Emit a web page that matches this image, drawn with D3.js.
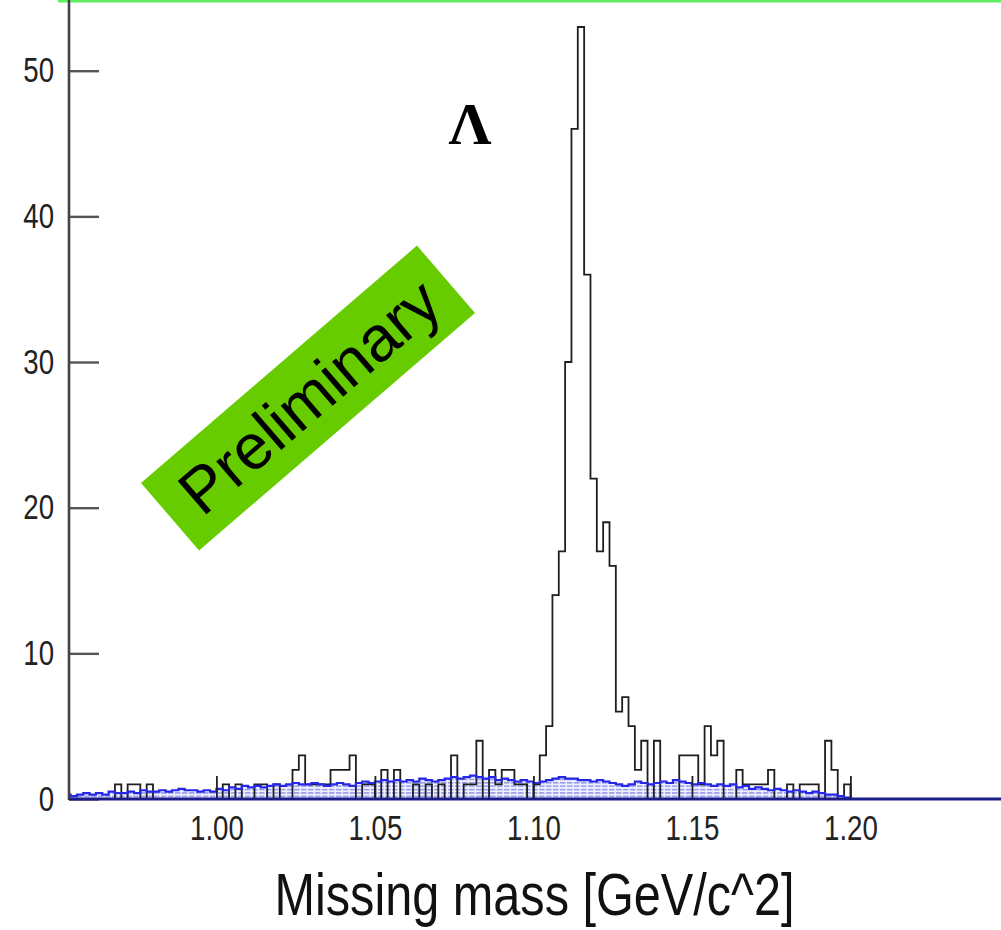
<!DOCTYPE html>
<html>
<head>
<meta charset="utf-8">
<script src="https://cdn.jsdelivr.net/npm/d3@7"></script>
<style>
  html, body { margin: 0; padding: 0; background: #ffffff; }
  svg { display: block; }
</style>
</head>
<body>
<script>
// Histogram binning: 2 MeV bins starting at 0.952 GeV/c^2
const binStart = 0.952;
const binWidth = 0.002;

// Event counts per bin (black histogram)
const signalCounts = [
  0, 0, 0, 0,
  0, 0, 0, 0, 1, 0, 1, 1, 0, 1,
  0, 0, 0, 0, 0, 0, 0, 0, 0, 0,
  0, 1, 0, 1, 0, 0, 1, 1, 0, 1,
  0, 0, 2, 3, 1, 1, 1, 1, 2, 2,
  2, 3, 0, 1, 1, 0, 2, 0, 2, 0,
  0, 1, 0, 1, 0, 1, 0, 3, 0, 1,
  1, 4, 0, 2, 1, 2, 2, 1, 1, 0,
  1, 3, 5, 14, 17, 30, 46, 53, 36, 22,
  17, 19, 16, 6, 7, 5, 2, 4, 0, 4,
  0, 0, 0, 3, 3, 3, 1, 5, 3, 4,
  0, 0, 2, 1, 1, 1, 1, 2, 0, 0,
  1, 0, 1, 1, 1, 0, 4, 2, 0, 1,
  0, 0, 0, 0, 0, 0, 0, 0, 0, 0,
  0, 0, 0, 0, 0, 0, 0, 0, 0, 0,
  0, 0, 0, 0
];

// Background estimate per bin (blue hatched histogram)
const backgroundCounts = [
  0.3, 0.2, 0.3, 0.4,
  0.3, 0.4, 0.3, 0.5, 0.4, 0.4, 0.5, 0.4, 0.6, 0.5,
  0.5, 0.6, 0.5, 0.6, 0.7, 0.6, 0.6, 0.5, 0.6, 0.5,
  0.7, 0.6, 0.8, 0.7, 0.9, 0.8, 0.9, 0.8, 0.9, 1.0,
  0.9, 1.0, 1.1, 1.0, 1.0, 1.1, 1.0, 0.9, 1.0, 1.1,
  1.0, 0.9, 1.1, 1.2, 1.1, 1.2, 1.3, 1.2, 1.3, 1.2,
  1.3, 1.2, 1.4, 1.3, 1.2, 1.3, 1.4, 1.5, 1.4, 1.5,
  1.6, 1.5, 1.4, 1.5, 1.3, 1.4, 1.3, 1.2, 1.3, 1.2,
  1.1, 1.2, 1.3, 1.4, 1.5, 1.4, 1.4, 1.3, 1.3, 1.2,
  1.3, 1.2, 1.1, 1.0, 0.9, 1.0, 1.2, 1.1, 1.0, 1.1,
  1.2, 1.1, 1.3, 1.2, 1.1, 1.0, 1.1, 1.0, 0.9, 1.0,
  0.9, 1.0, 0.8, 0.9, 0.7, 0.8, 0.7, 0.6, 0.7, 0.6,
  0.5, 0.6, 0.5, 0.4, 0.5, 0.4, 0.3, 0.3, 0.2, 0.1,
  0, 0, 0, 0, 0, 0, 0, 0, 0, 0,
  0, 0, 0, 0, 0, 0, 0, 0, 0, 0,
  0, 0, 0, 0
];

// Axis ticks and labels
const yMajorTicks = [0, 10, 20, 30, 40, 50];
const yMinorTicks = [2, 4, 6, 8, 12, 14, 16, 18, 22, 24, 26, 28, 32, 34, 36, 38, 42, 44, 46, 48, 52, 54];
const xMajorTicks = [1.00, 1.05, 1.10, 1.15, 1.20];
const xTickLabels = ["1.00", "1.05", "1.10", "1.15", "1.20"];
const xMinorTicks = [0.96, 0.97, 0.98, 0.99, 1.01, 1.02, 1.03, 1.04, 1.06, 1.07, 1.08, 1.09,
                     1.11, 1.12, 1.13, 1.14, 1.16, 1.17, 1.18, 1.19, 1.21, 1.22, 1.23, 1.24];
const xTitle = "Missing mass [GeV/c^2]";
const peakLabel = "\u039B";
const stampLabel = "Preliminary";

const W = 1001, H = 930;
const FONT = "'Liberation Sans', Arial, Helvetica, sans-serif";
const SQUEEZE = 0.79;

const x = d3.scaleLinear().domain([0.9535, 1.2475]).range([69, 1001]);
const y = d3.scaleLinear().domain([0, 50]).range([799, 70.7]);

const svg = d3.select("body").append("svg")
  .attr("width", W).attr("height", H)
  .attr("viewBox", `0 0 ${W} ${H}`);

const defs = svg.append("defs");
defs.append("clipPath").attr("id", "plotClip")
  .append("rect").attr("x", x.range()[0]).attr("y", 0)
  .attr("width", x.range()[1] - x.range()[0]).attr("height", y(0) + 1);

// dashed horizontal hatching for the background fill
const hatch = defs.append("pattern").attr("id", "bgHatch")
  .attr("patternUnits", "userSpaceOnUse")
  .attr("width", 7).attr("height", 3.4);
hatch.append("rect").attr("width", 7).attr("height", 3.4).attr("fill", "#eef0fd");
hatch.append("rect").attr("x", 0).attr("y", 0).attr("width", 5.5).attr("height", 1.5).attr("fill", "#9499ea");

// green rule along the top
svg.append("rect").attr("x", 58).attr("y", 0).attr("width", W - 58).attr("height", 2.5)
  .attr("fill", "#62ee62");

// step outline for a histogram
function stepPath(counts, close) {
  const p = d3.path();
  p.moveTo(x(binStart), y(0));
  counts.forEach((c, i) => {
    const xl = x(binStart + i * binWidth);
    const xr = x(binStart + (i + 1) * binWidth);
    p.lineTo(xl, y(c));
    p.lineTo(xr, y(c));
  });
  p.lineTo(x(binStart + counts.length * binWidth), y(0));
  if (close) p.closePath();
  return p.toString();
}

const plot = svg.append("g").attr("clip-path", "url(#plotClip)");

// background: hatched fill
plot.append("path")
  .attr("d", stepPath(backgroundCounts, true))
  .attr("fill", "url(#bgHatch)")
  .attr("stroke", "none");

// signal histogram
plot.append("path")
  .attr("d", stepPath(signalCounts, false))
  .attr("fill", "none")
  .attr("stroke", "#1e1e1e")
  .attr("stroke-width", 1.8)
  .attr("stroke-linejoin", "miter");

// background outline
plot.append("path")
  .attr("d", stepPath(backgroundCounts, false))
  .attr("fill", "none")
  .attr("stroke", "#2626e6")
  .attr("stroke-width", 2.2);

// ---- y axis ----
const yAxisG = svg.append("g").attr("transform", `translate(${x.range()[0]},0)`);
yAxisG.call(d3.axisLeft(y).tickValues(yMinorTicks).tickSize(-14).tickFormat(""));
yAxisG.call(d3.axisLeft(y).tickValues(yMajorTicks).tickSize(-30).tickPadding(15).tickFormat(d3.format("d")));
yAxisG.selectAll(".domain").remove();
yAxisG.selectAll(".tick line").attr("stroke", "#555").attr("stroke-width", 2.4);
yAxisG.selectAll(".tick text")
  .attr("font-family", FONT).attr("font-size", 35).attr("fill", "#222")
  .attr("x", -15 / SQUEEZE)
  .attr("transform", `scale(${SQUEEZE},1)`);
yAxisG.append("line")
  .attr("x1", 0).attr("x2", 0).attr("y1", 0).attr("y2", y(0) + 1)
  .attr("stroke", "#444").attr("stroke-width", 2.6);

// ---- x axis ----
const xAxisG = svg.append("g").attr("transform", `translate(0,${y(0)})`);
xAxisG.call(d3.axisBottom(x).tickValues(xMinorTicks).tickSize(-11).tickFormat(""));
xAxisG.call(d3.axisBottom(x).tickValues(xMajorTicks).tickSize(-23).tickPadding(16)
  .tickFormat((d, i) => xTickLabels[i]));
xAxisG.selectAll(".domain").remove();
xAxisG.selectAll(".tick line").attr("stroke", "#222").attr("stroke-width", 1.8);
xAxisG.selectAll(".tick text")
  .attr("font-family", FONT).attr("font-size", 35).attr("fill", "#222")
  .attr("transform", `scale(${SQUEEZE},1)`);
xAxisG.append("line")
  .attr("x1", x.range()[0]).attr("x2", x.range()[1]).attr("y1", 0).attr("y2", 0)
  .attr("stroke", "#1d1d8a").attr("stroke-width", 3);

// axis title
svg.append("text")
  .attr("x", 534.5).attr("y", 915)
  .attr("text-anchor", "middle")
  .attr("font-family", FONT).attr("font-size", 60).attr("fill", "#111")
  .attr("textLength", 520).attr("lengthAdjust", "spacingAndGlyphs")
  .text(xTitle);

// peak label
svg.append("text")
  .attr("x", x(1.08)).attr("y", y(45))
  .attr("text-anchor", "middle")
  .attr("font-family", "'Liberation Serif', 'Times New Roman', serif")
  .attr("font-weight", "bold").attr("font-size", 60).attr("fill", "#000")
  .text(peakLabel);

// "Preliminary" stamp
const stamp = svg.append("g").attr("transform", "translate(308,398) rotate(-40.7)");
stamp.append("rect")
  .attr("x", -182).attr("y", -44.5).attr("width", 364).attr("height", 89)
  .attr("fill", "#66cc00");
stamp.append("text")
  .attr("x", 2).attr("y", 22)
  .attr("text-anchor", "middle")
  .attr("font-family", FONT).attr("font-size", 64).attr("fill", "#000")
  .text(stampLabel);
</script>
</body>
</html>
